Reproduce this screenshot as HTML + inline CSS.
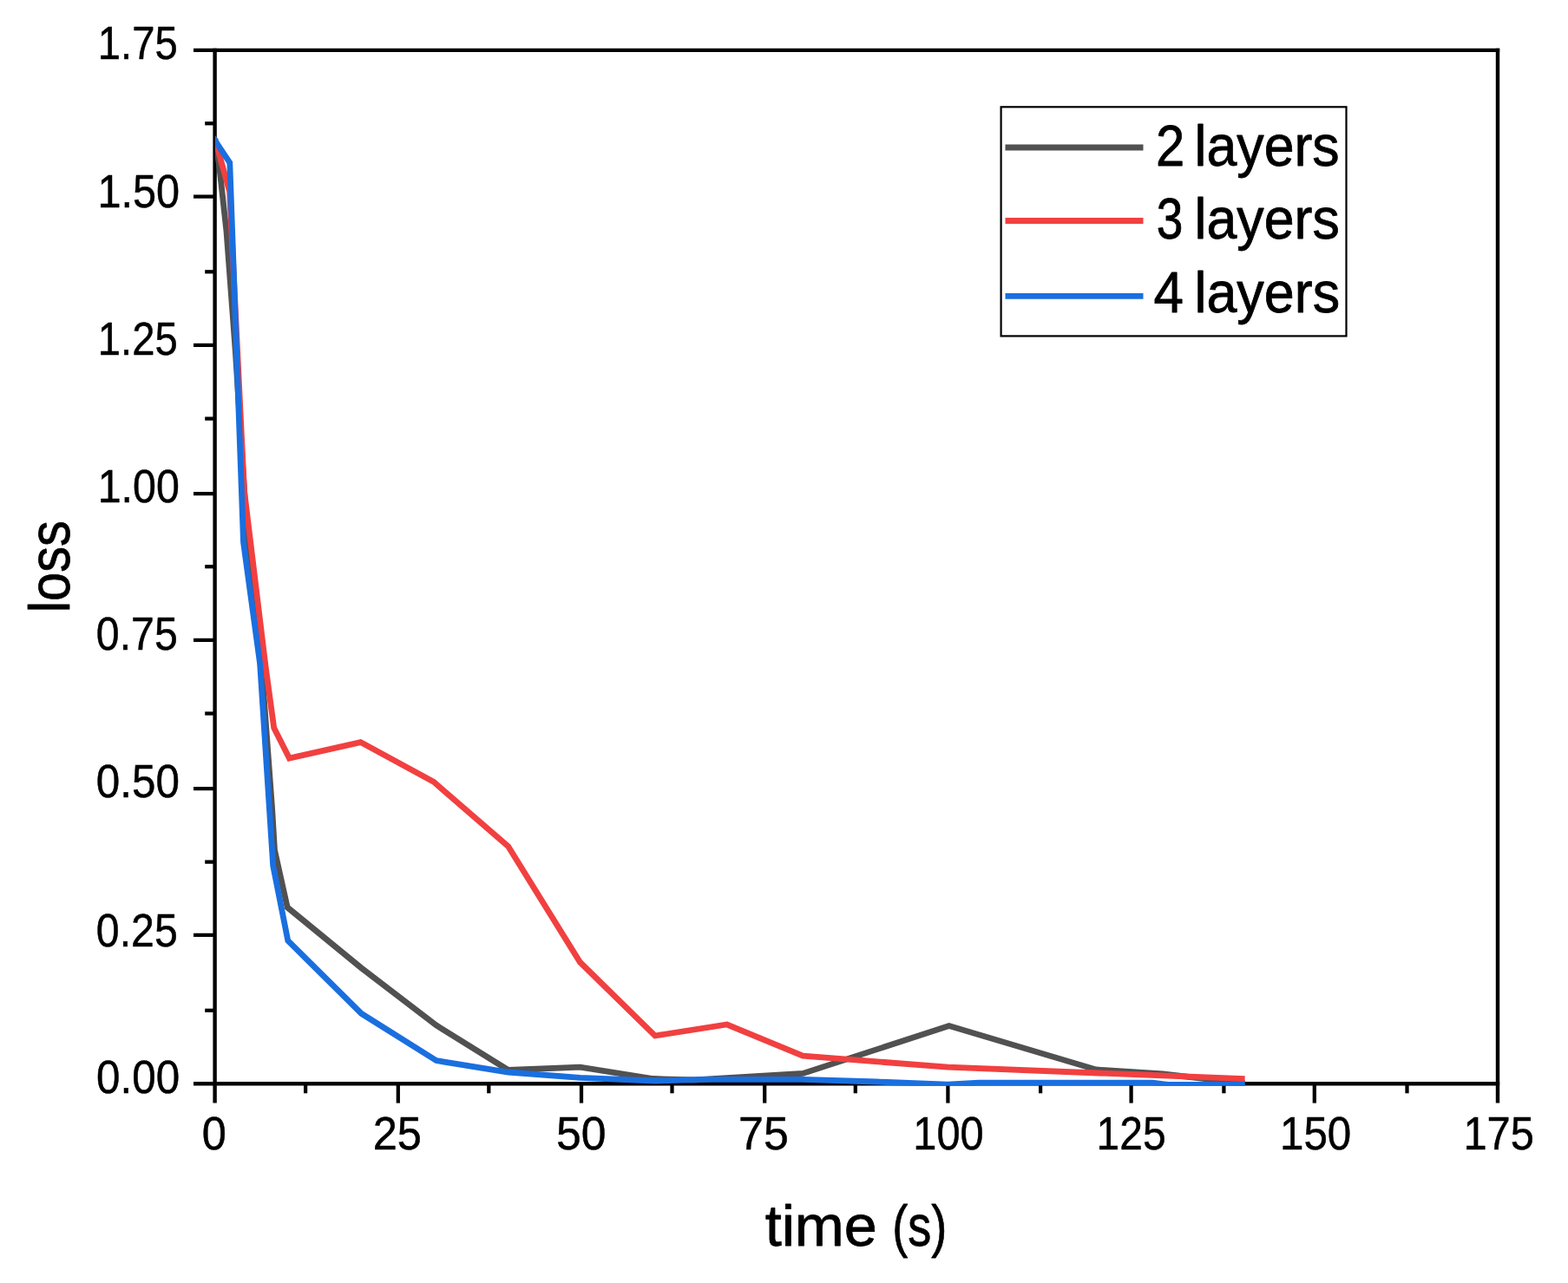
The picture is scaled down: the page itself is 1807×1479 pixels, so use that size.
<!DOCTYPE html>
<html lang="en">
<head>
<meta charset="utf-8">
<title>loss vs time</title>
<style>
html,body{margin:0;padding:0;background:#fff;}
body{width:1807px;height:1479px;overflow:hidden;}
svg{display:block;}
text{font-family:"Liberation Sans",sans-serif;fill:#000;white-space:pre;stroke:#000;stroke-width:0.5px;stroke-linejoin:round;}
#legend text,#xtitle,#ytitle{stroke-width:0.8px;}
</style>
</head>
<body>
<svg width="1807" height="1479" viewBox="0 0 1807 1479">
<rect width="1807" height="1479" fill="#fff"/>
<g id="axes" stroke="#000" stroke-width="4.4" fill="none" stroke-linecap="butt">
<path d="M223.00 57.85 H1728.20"/>
<path d="M223.00 1249.30 H1728.20"/>
<path d="M247.60 55.65 V1271.60"/>
<path d="M1726.00 55.65 V1271.60"/>
</g>
<g id="ticks" stroke="#000" stroke-width="4.25" fill="none">
<path d="M223.0 226.60 H247.60"/>
<path d="M223.0 397.90 H247.60"/>
<path d="M223.0 569.10 H247.60"/>
<path d="M223.0 737.90 H247.60"/>
<path d="M223.0 909.10 H247.60"/>
<path d="M223.0 1077.90 H247.60"/>
<path d="M236.2 142.30 H247.60"/>
<path d="M236.2 313.30 H247.60"/>
<path d="M236.2 482.60 H247.60"/>
<path d="M236.2 653.20 H247.60"/>
<path d="M236.2 822.50 H247.60"/>
<path d="M236.2 993.60 H247.60"/>
<path d="M236.2 1164.80 H247.60"/>
<path d="M458.80 1249.30 V1271.6"/>
<path d="M670.00 1249.30 V1271.6"/>
<path d="M881.20 1249.30 V1271.6"/>
<path d="M1092.40 1249.30 V1271.6"/>
<path d="M1303.60 1249.30 V1271.6"/>
<path d="M1514.80 1249.30 V1271.6"/>
<path d="M352.10 1249.30 V1260.3"/>
<path d="M563.30 1249.30 V1260.3"/>
<path d="M774.50 1249.30 V1260.3"/>
<path d="M985.80 1249.30 V1260.3"/>
<path d="M1199.10 1249.30 V1260.3"/>
<path d="M1410.40 1249.30 V1260.3"/>
<path d="M1621.50 1249.30 V1260.3"/>
</g>
<defs><clipPath id="plotclip"><rect x="247.9" y="58" width="1478.1" height="1193.7"/></clipPath></defs>
<g id="curves" clip-path="url(#plotclip)" fill="none" stroke-width="6.8" stroke-linejoin="miter" stroke-linecap="butt">
<polyline stroke="#515151" points="247.7,160.0 252.3,188.0 261.0,267.0 271.3,405.0 285.0,620.0 303.9,800.8 313.6,932.0 316.5,980.0 331.2,1046.0 416.6,1116.0 502.8,1182.0 585.7,1233.5 668.5,1230.2 752.6,1243.5 800.0,1245.0 925.3,1237.5 1093.7,1182.5 1263.0,1233.0 1340.0,1238.0 1434.6,1248.8"/>
<polyline stroke="#F14040" points="247.7,160.0 264.6,221.0 281.5,566.0 306.3,770.0 315.7,839.0 333.4,874.0 415.6,855.6 499.8,901.3 585.7,975.8 668.5,1109.3 754.8,1194.0 837.8,1181.0 925.3,1217.2 1092.4,1230.2 1434.6,1243.6"/>
<polyline stroke="#1A6FDF" points="243.7,155.8 264.8,187.5 280.5,625.0 299.6,765.0 314.7,998.0 331.8,1084.3 416.6,1168.5 502.8,1222.6 585.7,1236.0 668.5,1242.3 754.8,1246.0 810.0,1244.4 925.0,1244.4 1010.0,1247.0 1092.0,1250.2 1128.0,1248.2 1328.0,1248.2 1346.0,1250.3 1434.6,1250.3"/>
</g>
<g id="legend">
<rect x="1153.6" y="123.3" width="397.9" height="264.1" fill="#fff" stroke="#000" stroke-width="2.2"/>
<path d="M1158.5 170.0 H1317.5" stroke="#515151" stroke-width="6.9"/>
<path d="M1158.5 254.5 H1317.5" stroke="#F14040" stroke-width="6.9"/>
<path d="M1158.5 341.4 H1317.5" stroke="#1A6FDF" stroke-width="6.9"/>
<text id="leg2" transform="translate(1331.93 191.10)" font-size="66"><tspan class="w1" textLength="33.26" lengthAdjust="spacingAndGlyphs">2</tspan> <tspan class="w2" dx="-6.92" textLength="167.10" lengthAdjust="spacingAndGlyphs">layers</tspan></text>
<text id="leg3" transform="translate(1332.77 275.40)" font-size="66"><tspan class="w1" textLength="30.64" lengthAdjust="spacingAndGlyphs">3</tspan> <tspan class="w2" dx="-5.14" textLength="167.10" lengthAdjust="spacingAndGlyphs">layers</tspan></text>
<text id="leg4" transform="translate(1329.41 360.20)" font-size="66"><tspan class="w1" textLength="34.47" lengthAdjust="spacingAndGlyphs">4</tspan> <tspan class="w2" dx="-5.77" textLength="167.62" lengthAdjust="spacingAndGlyphs">layers</tspan></text>
</g>
<g id="ylabels">
<text id="y1_75" transform="translate(112.81 68.40) scale(0.8780 1.0000)" font-size="53.8">1.75</text>
<text id="y1_50" transform="translate(112.41 239.30) scale(0.9033 1.0000)" font-size="53.8">1.50</text>
<text id="y1_25" transform="translate(112.81 408.50) scale(0.8780 1.0000)" font-size="53.8">1.25</text>
<text id="y1_00" transform="translate(112.73 579.20) scale(0.8987 1.0000)" font-size="53.8">1.00</text>
<text id="y0_75" transform="translate(110.87 748.50) scale(0.8969 1.0000)" font-size="53.8">0.75</text>
<text id="y0_50" transform="translate(110.83 919.20) scale(0.9172 1.0000)" font-size="53.8">0.50</text>
<text id="y0_25" transform="translate(110.87 1091.00) scale(0.8969 1.0000)" font-size="53.8">0.25</text>
<text id="y0_00" transform="translate(111.12 1259.50) scale(0.9177 1.0000)" font-size="53.8">0.00</text>
</g>
<g id="xlabels">
<text id="x0" transform="translate(232.73 1324.50) scale(0.9383 1.0000)" font-size="53.8">0</text>
<text id="x25" transform="translate(429.65 1324.50) scale(0.9407 1.0000)" font-size="53.8">25</text>
<text id="x50" transform="translate(641.03 1324.50) scale(0.9615 1.0000)" font-size="53.8">50</text>
<text id="x75" transform="translate(851.03 1324.50) scale(0.9651 1.0000)" font-size="53.8">75</text>
<text id="x100" transform="translate(1052.32 1324.50) scale(0.9065 1.0000)" font-size="53.8">100</text>
<text id="x125" transform="translate(1263.53 1324.50) scale(0.8923 1.0000)" font-size="53.8">125</text>
<text id="x150" transform="translate(1475.03 1324.50) scale(0.9167 1.0000)" font-size="53.8">150</text>
<text id="x175" transform="translate(1686.47 1324.50) scale(0.9078 1.0000)" font-size="53.8">175</text>
</g>
<text id="xtitle" transform="translate(881.68 1435.50)" font-size="66"><tspan class="w1" textLength="129.14" lengthAdjust="spacingAndGlyphs">time</tspan> <tspan class="w2" dx="-0.91" textLength="62.96" lengthAdjust="spacingAndGlyphs">(s)</tspan></text>
<text id="ytitle" transform="translate(80.00 706.27) rotate(-90) scale(0.9049 1.0000)" font-size="66">loss</text>
</svg>
</body>
</html>
